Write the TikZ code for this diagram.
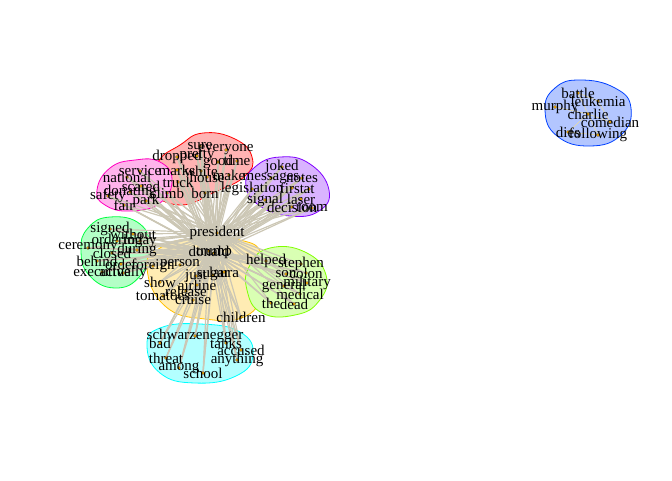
\documentclass[tikz,border=0pt]{standalone}
\usepackage{fontspec}
\setmainfont{Liberation Serif}
\usepackage{tikz}
\definecolor{edgegray}{RGB}{204,199,181}
\definecolor{blueedge}{RGB}{240,222,150}
\definecolor{vertexdot}{RGB}{232,160,0}
\definecolor{redfill}{RGB}{255,179,179}
\definecolor{orangefill}{RGB}{255,236,179}
\definecolor{limefill}{RGB}{217,255,179}
\definecolor{greenfill}{RGB}{179,255,198}
\definecolor{cyanfill}{RGB}{179,255,255}
\definecolor{bluefill}{RGB}{179,198,255}
\definecolor{purplefill}{RGB}{217,179,255}
\definecolor{magentafill}{RGB}{255,179,236}
\definecolor{redline}{RGB}{255,0,0}
\definecolor{orangeline}{RGB}{255,191,0}
\definecolor{limeline}{RGB}{128,255,0}
\definecolor{greenline}{RGB}{0,255,64}
\definecolor{cyanline}{RGB}{0,255,255}
\definecolor{blueline}{RGB}{0,64,255}
\definecolor{purpleline}{RGB}{128,0,255}
\definecolor{magentaline}{RGB}{255,0,191}
\pgfdeclarelayer{blobs}
\pgfdeclarelayer{edges}
\pgfsetlayers{blobs,edges,main}

\begin{document}
\begin{tikzpicture}[x=1pt, y=-1pt,
    word/.style={font=\fontsize{15}{15}\selectfont, inner sep=0pt},
    blob/.style={line width=0.8pt},
    link/.style={edgegray, line width=1.2pt},
    vdot/.style={fill=vertexdot, draw=black!60, line width=0.2pt}]
        \useasboundingbox (0,0) rectangle (672,480);
        % Group hulls
        \begin{pgfonlayer}{blobs}
          \filldraw[blob, fill=redfill, draw=redline] plot[smooth cycle, tension=0.8]
            coordinates {(153,190) (158,162) (180,145) (203,133) (235,139) (252,157) (245,176) (215,192) (180,205)};
          \filldraw[blob, fill=magentafill, draw=magentaline] plot[smooth cycle, tension=0.8]
            coordinates {(97,190) (110,168) (135,160) (160,162) (172,180) (160,203) (130,211) (105,205)};
          \filldraw[blob, fill=purplefill, draw=purpleline] plot[smooth cycle, tension=0.8]
            coordinates {(246,186) (255,167) (280,157) (310,164) (329,190) (319,211) (290,216) (260,206)};
          \filldraw[blob, fill=greenfill, draw=greenline] plot[smooth cycle, tension=0.8]
            coordinates {(81,250) (88,228) (110,217) (140,224) (149,248) (140,276) (115,288) (89,275)};
          \filldraw[blob, fill=orangefill, draw=orangeline] plot[smooth cycle, tension=0.8]
            coordinates {(147,268) (160,248) (195,238) (240,240) (262,255) (262,290) (246,316) (205,319) (165,306)};
          \filldraw[blob, fill=limefill, draw=limeline] plot[smooth cycle, tension=0.8]
            coordinates {(250,265) (270,248) (305,252) (326,275) (319,301) (295,315) (262,313) (247,290)};
          \filldraw[blob, fill=cyanfill, draw=cyanline] plot[smooth cycle, tension=0.8]
            coordinates {(147,345) (160,328) (200,324) (240,332) (253,355) (236,376) (195,383) (160,373)};
          \filldraw[blob, fill=bluefill, draw=blueline] plot[smooth cycle, tension=0.8]
            coordinates {(545,110) (555,88) (580,80) (615,88) (631,108) (621,135) (590,146) (557,136)};
        \end{pgfonlayer}
        % Word vertices
        \foreach \nm/\px/\py in {sure/200/146, everyone/226/150, dropped/177/157, pretty/197/156,
                                 good/218/162, time/237/161, marks/177/170, white/201/171,
                                 house/207/177, make/229/175, truck/178/182, climb/167/193, born/205/193}{
          \node[word] (\nm) at (\px,\py) {\nm};
        }
        \foreach \nm/\px/\py in {service/140/171, national/127/177, scared/141/186, donating/130/192,
                                 safety/108/196, park/146/201, fair/124/205}{
          \node[word] (\nm) at (\px,\py) {\nm};
        }
        \foreach \nm/\px/\py in {joked/282/167, messages/271/178, notes/302/178, legislation/252/189,
                                 first/292/188, at/309/189, signal/265/200, laser/301/199,
                                 decision/292/207, room/312/208}{
          \node[word] (\nm) at (\px,\py) {\nm};
        }
        \foreach \nm/\px/\py in {signed/110/229, without/133/234, ordering/117/241, today/140/241,
                                 ceremony/88/248, closed/112/253, during/137/250, behind/97/261,
                                 order/121/264, executive/102/272, actually/123/273}{
          \node[word] (\nm) at (\px,\py) {\nm};
        }
        \foreach \nm/\px/\py in {president/217/233, donald/209/251, trump/214/253, foreign/153/266,
                                 person/180/265, just/196/276, sugar/213/275, laura/224/272,
                                 show/160/282, airline/197/285, release/186/291, tomatoes/163/296,
                                 cruise/193/300, children/241/317}{
          \node[word] (\nm) at (\px,\py) {\nm};
        }
        \foreach \nm/\px/\py in {helped/266/261, stephen/301/264, son/286/274, colon/306/273,
                                 military/307/283, general/284/286, medical/300/294, the/271/303, dead/294/304}{
          \node[word] (\nm) at (\px,\py) {\nm};
        }
        \foreach \nm/\px/\py in {schwarzenegger/195/336, bad/160/343, tanks/226/343, accused/241/350,
                                 threat/166/358, anything/237/360, among/179/368, school/203/373}{
          \node[word] (\nm) at (\px,\py) {\nm};
        }
        \foreach \nm/\px/\py in {battle/578/93, leukemia/598/101, murphy/555/107, charlie/588/114,
                                 comedian/610/122, dies/568/132, following/598/135}{
          \node[word] (\nm) at (\px,\py) {\nm};
        }
        % Edges from the three hubs, then vertex dots
        \begin{pgfonlayer}{edges}
          \foreach \hub in {president, donald, trump}{
            \foreach \nm in {sure, everyone, dropped, pretty, good, time, marks, white, house, make,
                             truck, climb, born, service, national, scared, donating, safety, park, fair,
                             joked, messages, notes, legislation, first, at, signal, laser, decision, room,
                             signed, without, ordering, today, ceremony, closed, during, behind, order,
                             executive, actually, foreign, person, just, sugar, laura, show, airline,
                             release, tomatoes, cruise, children, helped, stephen, son, colon, military,
                             general, medical, the, dead, schwarzenegger, bad, tanks, accused, threat,
                             anything, among, school}{
              \draw[link] (\hub.center) -- (\nm.center);
            }
          }
          \draw[link] (president.center) -- (donald.center);
          \foreach \a/\b in {murphy/charlie, charlie/comedian, battle/leukemia, battle/charlie,
                             charlie/dies, dies/following, leukemia/comedian, charlie/following}{
            \draw[blueedge, line width=0.5pt] (\a.center) -- (\b.center);
          }
          \foreach \nm in {sure, everyone, dropped, pretty, good, time, marks, white, house, make,
                           truck, climb, born, service, national, scared, donating, safety, park, fair,
                           joked, messages, notes, legislation, first, at, signal, laser, decision, room,
                           signed, without, ordering, today, ceremony, closed, during, behind, order,
                           executive, actually, president, donald, trump, foreign, person, just, sugar,
                           laura, show, airline, release, tomatoes, cruise, children, helped, stephen,
                           son, colon, military, general, medical, the, dead, schwarzenegger, bad, tanks,
                           accused, threat, anything, among, school, battle, leukemia, murphy, charlie,
                           comedian, dies, following}{
            \filldraw[vdot] (\nm.center) circle[radius=1.7pt];
          }
        \end{pgfonlayer}
      \end{tikzpicture}
\end{document}
